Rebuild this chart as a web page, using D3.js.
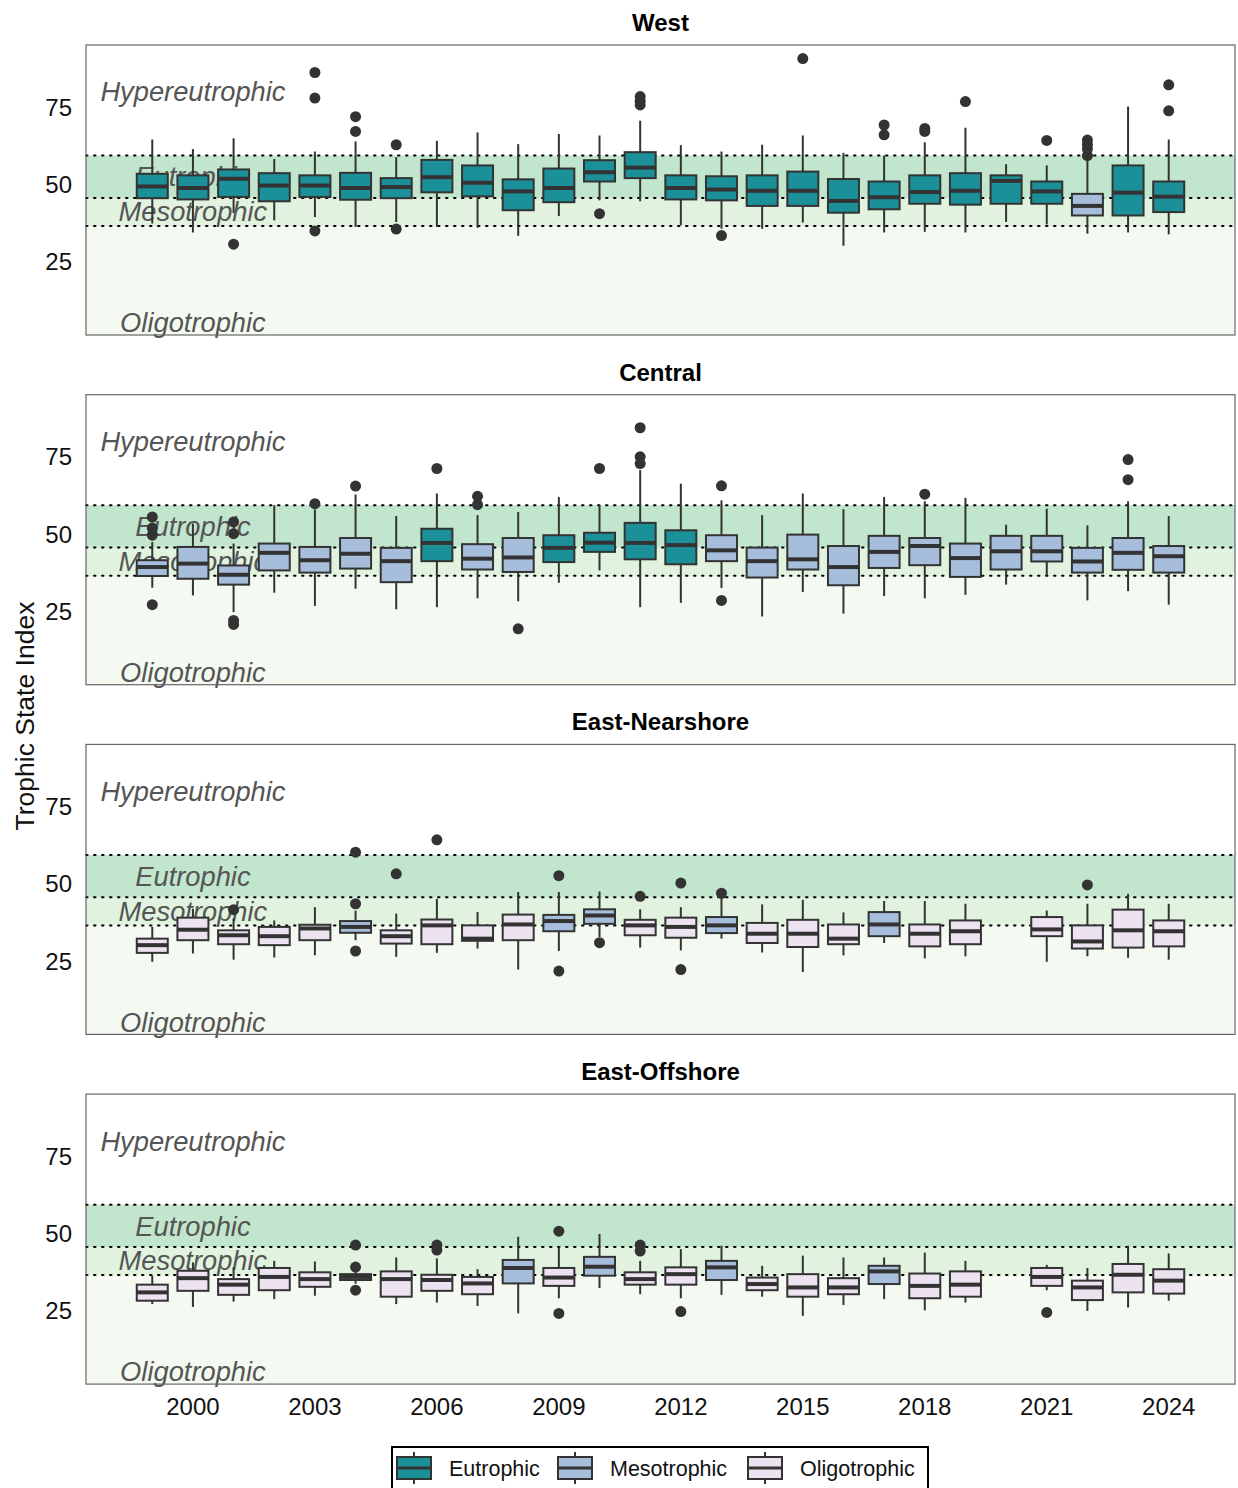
<!DOCTYPE html>
<html>
<head>
<meta charset="utf-8">
<script src="https://cdn.jsdelivr.net/npm/d3@7"></script>
<style>
  body { margin: 0; background: #fff; }
  text { font-family: "Liberation Sans", Arial, sans-serif; }
</style>
</head>
<body>
<svg id="chart" width="1238" height="1488"></svg>
<script>
// Years on the x axis
var years = [1999, 2000, 2001, 2002, 2003, 2004, 2005, 2006, 2007, 2008, 2009, 2010, 2011,
             2012, 2013, 2014, 2015, 2016, 2017, 2018, 2019, 2020, 2021, 2022, 2023, 2024];
var xTicks = [2000, 2003, 2006, 2009, 2012, 2015, 2018, 2021, 2024];
var yTicks = [25, 50, 75];
var regions = ["West", "Central", "East-Nearshore", "East-Offshore"];
var statuses = ["Eutrophic", "Mesotrophic", "Oligotrophic"];

// Trophic thresholds (dotted lines) and zone labels
var thresholds = [36.6, 45.7, 59.4];
var zoneLabels = [
  {name: "Hypereutrophic", value: 80},
  {name: "Eutrophic", value: 52.5},
  {name: "Mesotrophic", value: 41.2},
  {name: "Oligotrophic", value: 5.3}
];

// Box stats per year: [lower whisker, q1, median, q3, upper whisker]  (null = no data)
var westBox = [
  [37.4, 45.6, 49.4, 53.5, 64.6], [34.5, 45.2, 48.9, 53.0, 61.5], [40.8, 46.0, 51.9, 54.9, 65.0],
  [38.4, 44.6, 49.7, 53.7, 58.3], [39.5, 46.0, 49.7, 53.0, 60.7], [36.3, 45.1, 48.9, 53.8, 64.0],
  [37.9, 45.6, 49.2, 52.1, 58.9], [36.3, 47.5, 52.4, 58.0, 64.2], [36.0, 46.2, 50.6, 56.2, 66.9],
  [33.4, 41.7, 47.8, 51.7, 63.1], [39.8, 44.3, 48.9, 55.2, 66.4], [44.9, 51.0, 54.0, 57.9, 65.9],
  [44.6, 52.1, 55.5, 60.5, 70.7], [36.8, 45.2, 48.9, 53.0, 62.8], [35.7, 44.9, 48.4, 52.7, 60.7],
  [35.7, 43.1, 48.0, 53.0, 62.9], [37.7, 43.1, 48.0, 54.2, 65.9], [30.2, 40.9, 44.7, 51.8, 60.3],
  [34.5, 42.0, 45.9, 51.0, 59.4], [34.7, 43.8, 47.6, 53.0, 63.7], [34.5, 43.5, 48.0, 53.7, 68.4],
  [37.9, 43.8, 51.2, 53.0, 56.6], [37.1, 43.8, 47.8, 51.0, 56.2], [34.1, 40.0, 43.1, 47.0, 57.8],
  [34.5, 40.0, 47.4, 56.2, 75.3], [33.9, 41.1, 46.1, 51.0, 64.6]
];
var westStatus = ["E","E","E","E","E","E","E","E","E","E","E","E","E",
                  "E","E","E","E","E","E","E","E","E","E","M","E","E"];
var westOut = [[], [], [30.7], [], [86.3, 78.0, 35.0], [72.0, 67.2], [62.9, 35.6], [], [], [], [], [40.6],
  [78.5, 77.0, 75.8], [], [33.5], [], [90.8], [], [69.3, 66.1], [68.2, 67.2], [76.9], [], [64.3],
  [64.4, 63.0, 61.5, 59.4], [], [82.3, 73.9]];

var centralBox = [
  [32.7, 36.5, 39.4, 41.6, 47.5], [30.2, 35.6, 40.5, 45.9, 53.5], [24.8, 33.7, 36.9, 39.9, 47.0],
  [31.1, 38.3, 44.0, 47.0, 59.4], [26.8, 37.6, 41.6, 45.9, 58.0], [32.4, 38.9, 43.7, 48.8, 62.9],
  [25.7, 34.5, 41.3, 45.6, 55.9], [26.4, 41.3, 47.2, 51.8, 63.2], [29.3, 38.6, 42.1, 46.8, 56.2],
  [28.3, 37.8, 42.5, 48.8, 57.2], [34.3, 41.0, 45.6, 49.7, 62.1], [38.3, 44.3, 47.3, 50.5, 59.4],
  [26.4, 41.9, 47.2, 53.7, 70.8], [27.8, 40.3, 46.5, 51.3, 66.4], [32.6, 41.3, 44.8, 49.7, 61.0],
  [23.4, 36.0, 41.3, 45.7, 56.2], [31.3, 38.6, 41.9, 49.9, 63.2], [24.3, 33.5, 39.4, 46.2, 58.1],
  [30.0, 39.1, 44.3, 49.5, 62.1], [29.3, 40.0, 46.2, 48.8, 60.7], [30.4, 36.2, 42.3, 47.0, 61.8],
  [33.7, 38.6, 44.5, 49.5, 53.1], [36.7, 41.2, 44.5, 49.5, 58.3], [28.6, 37.6, 41.2, 45.6, 52.9],
  [31.6, 38.5, 44.0, 48.8, 60.7], [27.2, 37.6, 42.9, 46.2, 55.9]
];
var centralStatus = ["M","M","M","M","M","M","M","E","M","M","E","E","E",
                     "E","M","M","M","M","M","M","M","M","M","M","M","M"];
var centralOut = [[55.6, 52.0, 49.7, 27.2], [], [54.0, 50.2, 22.1, 20.8], [], [59.9], [65.6], [], [71.3],
  [62.3, 59.6], [19.4], [], [71.3], [84.5, 75.1, 72.9], [], [65.7, 28.6], [], [], [], [], [63.0], [],
  [], [], [], [74.2, 67.7], []];

var nearBox = [
  [24.8, 27.7, 30.2, 32.3, 36.1], [27.5, 31.8, 35.2, 39.1, 42.0], [25.5, 30.5, 33.4, 35.0, 38.8],
  [26.2, 30.2, 33.1, 36.1, 38.2], [26.9, 31.8, 35.6, 36.8, 42.5], [31.8, 34.2, 36.1, 38.0, 41.4],
  [26.4, 30.7, 33.1, 35.0, 40.4], [27.7, 30.5, 36.6, 38.5, 45.2], [29.1, 31.6, 32.3, 36.6, 40.9],
  [22.3, 31.8, 36.9, 40.1, 47.4], [28.3, 34.7, 38.0, 40.0, 47.4], [32.8, 37.1, 39.8, 41.8, 47.6],
  [29.4, 33.4, 36.6, 38.4, 41.8], [28.5, 32.6, 36.1, 39.1, 42.5], [32.3, 34.1, 36.6, 39.3, 46.3],
  [27.8, 30.9, 33.9, 37.4, 43.4], [21.5, 29.6, 33.9, 38.4, 44.9], [26.9, 30.5, 32.3, 36.9, 40.8],
  [30.9, 33.1, 36.9, 40.9, 44.5], [25.9, 29.8, 33.9, 36.9, 44.5], [26.6, 30.5, 34.7, 38.2, 43.6],
  null, [24.8, 33.1, 35.3, 39.3, 41.4], [26.6, 29.1, 31.4, 36.6, 43.6],
  [26.1, 29.4, 35.0, 41.7, 46.8], [25.5, 29.8, 34.7, 38.2, 43.6]
];
var nearStatus = ["O","O","O","O","O","M","O","O","O","O","M","M","O",
                  "O","M","O","O","O","M","O","O",null,"O","O","O","O"];
var nearOut = [[], [], [41.7], [], [], [60.3, 43.6, 28.3], [53.3], [64.3], [], [], [52.7, 21.8], [31.0],
  [46.0], [50.3, 22.3], [47.0], [], [], [], [], [], [], [], [], [49.7], [], []];

var offBox = [
  [27.2, 28.3, 31.0, 33.5, 36.4], [26.3, 31.5, 35.6, 38.0, 40.7], [28.0, 30.2, 33.5, 35.3, 39.1],
  [28.8, 31.7, 36.0, 38.9, 41.2], [29.9, 32.8, 35.3, 37.5, 41.0], [33.8, 35.0, 36.0, 36.9, 38.0],
  [27.2, 29.6, 35.3, 37.8, 42.3], [27.7, 31.5, 35.0, 36.7, 42.0], [26.6, 30.4, 33.9, 36.0, 38.5],
  [24.2, 33.9, 38.9, 41.5, 49.0], [29.1, 33.1, 35.8, 38.9, 45.6], [32.4, 36.4, 39.3, 42.5, 49.9],
  [30.4, 33.5, 35.3, 37.5, 41.2], [29.1, 33.5, 36.9, 39.1, 45.0], [30.2, 35.0, 39.1, 41.2, 46.1],
  [29.6, 31.7, 33.7, 35.8, 39.6], [23.4, 29.6, 32.6, 36.9, 42.9], [26.9, 30.4, 32.6, 35.6, 42.3],
  [28.8, 33.7, 37.8, 39.6, 42.3], [25.2, 29.1, 33.1, 37.1, 43.9], [27.7, 29.6, 33.5, 37.8, 41.2],
  null, [31.7, 33.1, 36.0, 38.9, 39.9], [25.0, 28.5, 32.6, 34.8, 38.9],
  [26.1, 31.0, 36.7, 40.2, 46.1], [28.3, 30.6, 34.8, 38.5, 43.6]
];
var offStatus = ["O","O","O","O","O","O","O","O","O","M","O","M","O",
                 "O","M","O","O","O","M","O","O",null,"O","O","O","O"];
var offOut = [[], [], [], [], [], [46.3, 39.2, 31.7], [], [46.3, 44.7], [], [], [50.8, 24.2], [],
  [46.3, 44.4], [24.8], [], [], [], [], [], [], [], [], [24.5], [], [], []];

// Colours
var boxColor = {E: "#1c9099", M: "#a6bddb", O: "#ece2f0"};
var bandColor = ["#f4faf2", "#e1f3df", "#c1e5cd"];
var ink = "#333333";

// Build rows for each panel
var panels = regions.map((name, i) => {
  var box = [westBox, centralBox, nearBox, offBox][i];
  var st = [westStatus, centralStatus, nearStatus, offStatus][i];
  var out = [westOut, centralOut, nearOut, offOut][i];
  var rows = [];
  years.forEach((yr, j) => {
    if (!box[j]) return;
    rows.push({year: yr, lo: box[j][0], q1: box[j][1], med: box[j][2], q3: box[j][3],
               hi: box[j][4], status: st[j], out: out[j]});
  });
  return {name: name, rows: rows};
});

var svg = d3.select('#chart');
var left = 86, right = 1235;
var panelH = 290, panelStep = 349.7, firstTop = 45;

var x = d3.scaleLinear().domain([1997.37, 2025.63]).range([left, right]);
var boxW = 31;

panels.forEach((p, i) => {
  var top = firstTop + i * panelStep;
  var y = d3.scaleLinear().domain([1.3, 95.2]).range([top + panelH, top]);
  var g = svg.append('g');

  // Facet title
  g.append('text')
    .attr('x', (left + right) / 2)
    .attr('y', top - 14)
    .attr('text-anchor', 'middle')
    .style('font-size', '24px')
    .style('font-weight', 'bold')
    .text(p.name);

  // Trophic bands
  var edges = [y.domain()[0]].concat(thresholds);
  for (var k = 0; k < 3; k++) {
    g.append('rect')
      .attr('x', left)
      .attr('width', right - left)
      .attr('y', y(edges[k + 1]))
      .attr('height', y(edges[k]) - y(edges[k + 1]))
      .attr('fill', bandColor[k]);
  }

  // Dotted threshold lines
  g.selectAll('.thr').data(thresholds).enter().append('line')
    .attr('x1', left).attr('x2', right)
    .attr('y1', (d) => y(d)).attr('y2', (d) => y(d))
    .attr('stroke', '#000')
    .attr('stroke-width', 2)
    .attr('stroke-dasharray', '1.5,6.5')
    .attr('stroke-linecap', 'round');

  // Zone labels
  g.selectAll('.zone').data(zoneLabels).enter().append('text')
    .attr('x', x(2000))
    .attr('y', (d) => y(d.value))
    .attr('dy', '0.35em')
    .attr('text-anchor', 'middle')
    .style('font-size', '27.3px')
    .style('font-style', 'italic')
    .attr('fill', '#555')
    .text((d) => d.name);

  // Boxplots
  var b = g.selectAll('.box').data(p.rows).enter().append('g');
  b.append('line')
    .attr('x1', (d) => x(d.year)).attr('x2', (d) => x(d.year))
    .attr('y1', (d) => y(d.hi)).attr('y2', (d) => y(d.lo))
    .attr('stroke', ink).attr('stroke-width', 2);
  b.append('rect')
    .attr('x', (d) => x(d.year) - boxW / 2)
    .attr('width', boxW)
    .attr('y', (d) => y(d.q3))
    .attr('height', (d) => y(d.q1) - y(d.q3))
    .attr('fill', (d) => boxColor[d.status])
    .attr('stroke', ink).attr('stroke-width', 2);
  b.append('line')
    .attr('x1', (d) => x(d.year) - boxW / 2).attr('x2', (d) => x(d.year) + boxW / 2)
    .attr('y1', (d) => y(d.med)).attr('y2', (d) => y(d.med))
    .attr('stroke', ink).attr('stroke-width', 4);
  b.selectAll('circle').data((d) => d.out.map((v) => ({year: d.year, v: v}))).enter()
    .append('circle')
    .attr('cx', (d) => x(d.year))
    .attr('cy', (d) => y(d.v))
    .attr('r', 5.5)
    .attr('fill', ink);

  // Panel border
  g.append('rect')
    .attr('x', left).attr('y', top)
    .attr('width', right - left).attr('height', panelH)
    .attr('fill', 'none')
    .attr('stroke', '#666').attr('stroke-width', 1.2);

  // Y axis labels (no tick marks)
  g.selectAll('.yt').data(yTicks).enter().append('text')
    .attr('x', 72)
    .attr('y', (d) => y(d))
    .attr('dy', '0.35em')
    .attr('text-anchor', 'end')
    .style('font-size', '24px')
    .attr('fill', '#111')
    .text((d) => d);

  // X axis labels on bottom panel only
  if (i === panels.length - 1) {
    g.selectAll('.xt').data(xTicks).enter().append('text')
      .attr('x', (d) => x(d))
      .attr('y', top + panelH + 31)
      .attr('text-anchor', 'middle')
      .style('font-size', '24px')
      .attr('fill', '#111')
      .text((d) => d);
  }
});

// Y axis title
svg.append('text')
  .attr('transform', 'translate(34, 716) rotate(-90)')
  .attr('text-anchor', 'middle')
  .style('font-size', '26.5px')
  .attr('fill', '#111')
  .text('Trophic State Index');

// Legend
var legend = svg.append('g');
legend.append('rect')
  .attr('x', 392).attr('y', 1447)
  .attr('width', 536).attr('height', 50)
  .attr('fill', '#fff')
  .attr('stroke', '#000').attr('stroke-width', 2);

var legendX = [397, 558, 748];
var legendKey = ["E", "M", "O"];
statuses.forEach((s, k) => {
  var kx = legendX[k], cy = 1468;
  legend.append('line')
    .attr('x1', kx + 17).attr('x2', kx + 17)
    .attr('y1', cy - 16).attr('y2', cy + 16)
    .attr('stroke', ink).attr('stroke-width', 2);
  legend.append('rect')
    .attr('x', kx).attr('y', cy - 11)
    .attr('width', 34).attr('height', 22)
    .attr('fill', boxColor[legendKey[k]])
    .attr('stroke', ink).attr('stroke-width', 2);
  legend.append('line')
    .attr('x1', kx).attr('x2', kx + 34)
    .attr('y1', cy).attr('y2', cy)
    .attr('stroke', ink).attr('stroke-width', 3);
  legend.append('text')
    .attr('x', kx + 52)
    .attr('y', cy)
    .attr('dy', '0.35em')
    .style('font-size', '21.5px')
    .attr('fill', '#111')
    .text(s);
});
</script>
</body>
</html>
